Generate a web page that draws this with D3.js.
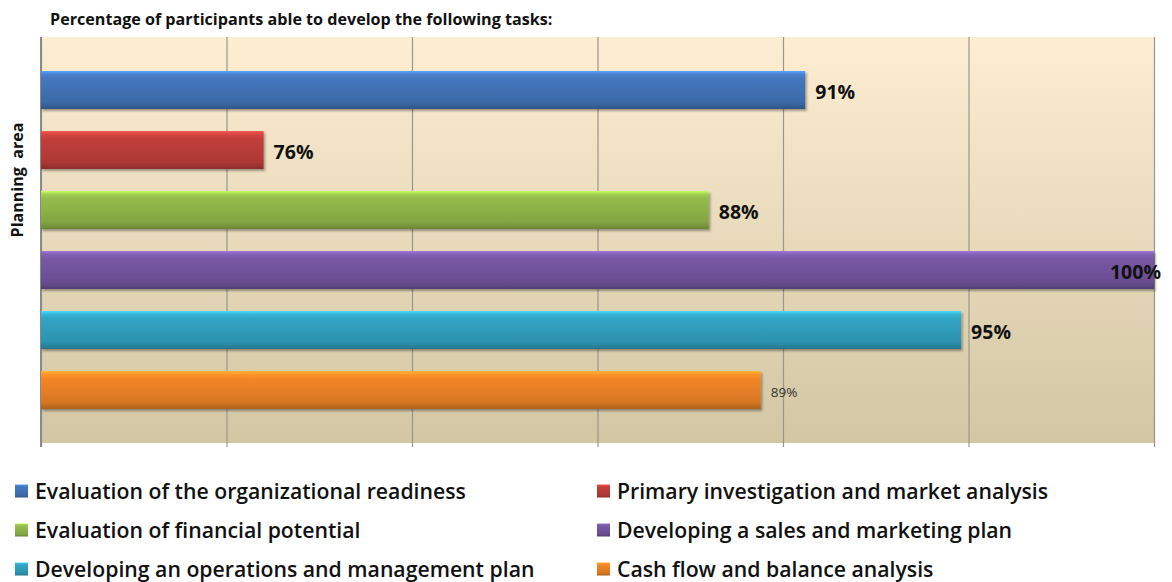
<!DOCTYPE html>
<html><head><meta charset="utf-8">
<script src="https://cdn.jsdelivr.net/npm/d3@7"></script>
<style>body{margin:0;background:#fff;} svg{display:block;}</style>
</head><body>
<svg id="chart" width="1172" height="582"></svg>
<script>
const categories = [
  "Evaluation of the organizational readiness",
  "Primary investigation and market analysis",
  "Evaluation of financial potential",
  "Developing a sales and marketing plan",
  "Developing an operations and management plan",
  "Cash flow and balance analysis"
];
const values = [90.6, 76.0, 88.0, 100.0, 94.8, 89.4];
const colors = ["#4375ba", "#bf3e3b", "#92b84a", "#7556a0", "#31a2c2", "#ef8427"];
const xTicks = [70, 75, 80, 85, 90, 95, 100];
const title = "Percentage of participants able to develop the following tasks:";
const yTitle = "Planning  area";

const svg = d3.select("#chart");
const m = {left: 41, right: 1154, top: 37, bottom: 443};
const x = d3.scaleLinear().domain([70, 100]).range([m.left, m.right]);
const y = d3.scaleBand().domain(categories).range([m.top, m.bottom]).paddingInner(0.367).paddingOuter(0.567);

function fit(sel, target) {
  const fs = parseFloat(sel.attr("font-size"));
  const w = sel.node().getComputedTextLength();
  sel.attr("font-size", fs * target / w);
  return fs * target / w;
}

const defs = svg.append("defs");
const bg = defs.append("linearGradient").attr("id", "bg").attr("x1", 0).attr("y1", 0).attr("x2", 0).attr("y2", 1);
bg.append("stop").attr("offset", "0%").attr("stop-color", "#fdedd2");
bg.append("stop").attr("offset", "100%").attr("stop-color", "#d2c6a3");

colors.forEach((c, i) => {
  const g = defs.append("linearGradient").attr("id", "g" + i).attr("x1", 0).attr("y1", 0).attr("x2", 0).attr("y2", 1);
  const base = d3.color(c);
  g.append("stop").attr("offset", "0%").attr("stop-color", base.brighter(0.9));
  g.append("stop").attr("offset", "9%").attr("stop-color", base.brighter(0.3));
  g.append("stop").attr("offset", "20%").attr("stop-color", base.brighter(0.05));
  g.append("stop").attr("offset", "82%").attr("stop-color", base.darker(0.3));
  g.append("stop").attr("offset", "100%").attr("stop-color", base.darker(0.9));
});
const sh = defs.append("filter").attr("id", "sh").attr("x", "-5%").attr("y", "-20%").attr("width", "110%").attr("height", "150%");
sh.append("feDropShadow").attr("dx", 1.5).attr("dy", 2).attr("stdDeviation", 1.2).attr("flood-color", "#000").attr("flood-opacity", 0.35);

// plot background
svg.append("rect").attr("x", m.left).attr("y", m.top).attr("width", m.right - m.left).attr("height", m.bottom - m.top).attr("fill", "url(#bg)");

// gridlines via axis
const gx = svg.append("g").attr("transform", `translate(0,${m.bottom + 4})`)
  .call(d3.axisBottom(x).tickValues(xTicks).tickSize(m.bottom - m.top + 4).tickFormat(""));
gx.select(".domain").remove();
gx.selectAll(".tick line").attr("transform", `translate(0,${-(m.bottom - m.top + 4)})`).attr("stroke", "#9a968c").attr("stroke-width", 1.2);

// left axis line
svg.append("line").attr("x1", m.left).attr("x2", m.left).attr("y1", m.top).attr("y2", m.bottom + 4).attr("stroke", "#8a8a8a").attr("stroke-width", 2);

// bars
svg.append("g").selectAll("rect").data(categories).join("rect")
  .attr("x", x(70)).attr("y", d => y(d))
  .attr("width", (d, i) => x(values[i]) - x(70))
  .attr("height", y.bandwidth())
  .attr("fill", (d, i) => `url(#g${i})`)
  .attr("filter", "url(#sh)");

// labels
const fmt = v => d3.format(".0f")(v) + "%";
svg.append("g").selectAll("text").data(categories).join("text")
  .attr("x", (d, i) => values[i] >= 100 ? x(values[i]) + 7 : x(values[i]) + 10)
  .attr("y", d => y(d) + y.bandwidth() / 2 + 2)
  .attr("dy", "0.36em")
  .attr("text-anchor", (d, i) => values[i] >= 100 ? "end" : "start")
  .attr("font-family", "'Open Sans', sans-serif")
  .attr("font-weight", (d, i) => i === 5 ? "normal" : "bold")
  .attr("font-size", (d, i) => i === 5 ? 13.5 : 19.5)
  .attr("fill", (d, i) => i === 5 ? "#333" : "#111")
  .text((d, i) => fmt(values[i]));

// title
const t = svg.append("text").attr("x", 50).attr("y", 25)
  .attr("font-family", "'Open Sans', sans-serif").attr("font-weight", "bold").attr("font-size", 14).attr("fill", "#111")
  .text(title);
fit(t, 503);

// y title
const yt = svg.append("text").attr("transform", `translate(23,180) rotate(-90)`)
  .attr("text-anchor", "middle")
  .attr("font-family", "'Open Sans', sans-serif").attr("font-weight", "bold").attr("font-size", 14).attr("fill", "#111")
  .attr("xml:space", "preserve").style("white-space", "pre")
  .text(yTitle);
fit(yt, 115);

// legend
const legX = [15, 597], legY = [491, 530, 569];
const leg = svg.append("g").selectAll("g").data(categories).join("g")
  .attr("transform", (d, i) => `translate(${legX[i % 2]},${legY[Math.floor(i / 2)]})`);
leg.append("rect").attr("x", 0).attr("y", -6.5).attr("width", 13).attr("height", 13).attr("fill", (d, i) => `url(#g${i})`);
const lt = leg.append("text").attr("x", 20).attr("y", 0).attr("dy", "0.36em")
  .attr("font-family", "'Open Sans', sans-serif").attr("font-weight", 600).attr("font-size", 18).attr("fill", "#111")
  .text(d => d);
const fs = fit(d3.select(lt.nodes()[0]), 431);
lt.attr("font-size", fs);
</script>
</body></html>
